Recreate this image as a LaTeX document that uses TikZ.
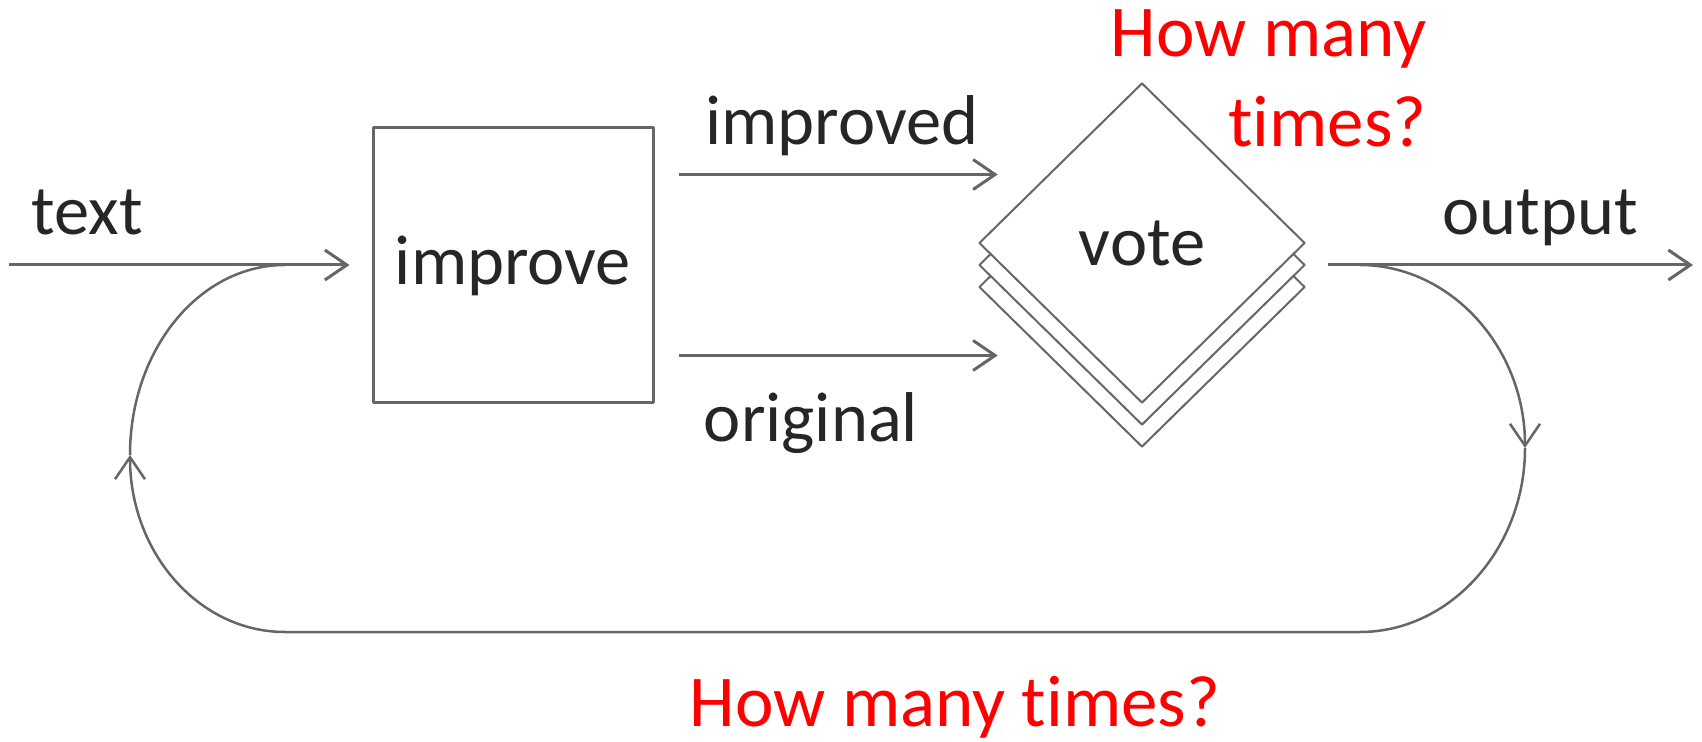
\documentclass[tikz,border=0pt]{standalone}
\usepackage{fontspec}
\setmainfont{Carlito}[Ligatures=NoCommon]
\usetikzlibrary{arrows.meta,shapes.geometric}

\tikzset{
  flow/.style={draw=black!60,line width=1.5pt},
  loopline/.style={draw=black!60,line width=1.25pt},
  lbl/.style={text=black!85,font=\fontsize{35.25pt}{42pt}\selectfont,inner sep=0pt},
  ask/.style={text=red,font=\fontsize{36.5pt}{44pt}\selectfont,inner sep=0pt},
  stepbox/.style={draw=black!60,line width=1.5pt,minimum width=140pt,minimum height=137.5pt,inner sep=0pt},
  votebox/.style={diamond,draw=black!60,line width=1pt,fill=white,minimum width=163pt,minimum height=160pt,inner sep=0pt},
}

\begin{document}
\begin{tikzpicture}[x=0.5pt,y=-0.5pt,>={Straight Barb[length=11pt,width=15pt]},line join=bevel]
\useasboundingbox (0,0) rectangle (1702,742);
%%
\node (node_improve) at (513,265.5) [stepbox,lbl] {improve};
  \node (node_vote3) at (1142,287) [votebox] {};
  \node (node_vote2) at (1142,265) [votebox] {};
  \node (node_vote) at (1142,243) [votebox,lbl] {vote};
  \coordinate (in_start) at (9,265);
  \coordinate (out_end) at (1693,265);
  \coordinate (loop_r0) at (1360,265);
  \coordinate (loop_r1) at (1525,448);
  \coordinate (loop_r2) at (1360,632);
  \coordinate (loop_l2) at (285,632);
  \coordinate (loop_l1) at (130,455);
  \coordinate (loop_l0) at (285,265);
  \node (lbl_text) at (87,235) [lbl,anchor=base] {text};
  \node (lbl_improved) at (842,145) [lbl,anchor=base] {improved};
  \node (lbl_original) at (811,442) [lbl,anchor=base] {original};
  \node (lbl_output) at (1540,235) [lbl,anchor=base] {output};
  \node (ask_0) at (1427,57) [ask,anchor=base east] {How many};
  \node (ask_1) at (1427,147) [ask,anchor=base east] {times?};
  \node (ask_2) at (955,726) [ask,anchor=base] {How many times?};
  \draw [flow,->,shorten >=11pt] (in_start) -- (in_start -| node_improve.west);
  \draw [flow,->,shorten <=12pt,shorten >=25pt] (node_improve.east |- node_vote.144) -- (node_vote.144);
  \draw [flow,->,shorten <=12pt,shorten >=25pt] (node_improve.east |- node_vote3.216) -- (node_vote3.216);
  \draw [flow,->,shorten <=11pt] (node_vote2.east) -- (out_end);
  \draw [loopline,->] (loop_r0) ..controls (1450,265) and (1525,347)  .. (loop_r1);
  \draw [loopline,->] (loop_r1) ..controls (1525,549) and (1450,632)  .. (loop_r2) -- (loop_l2) ..controls (199,632) and (130,553)  .. (loop_l1);
  \draw [loopline] (loop_l1) ..controls (130,350) and (199,265)  .. (loop_l0);
%
\end{tikzpicture}
\end{document}
